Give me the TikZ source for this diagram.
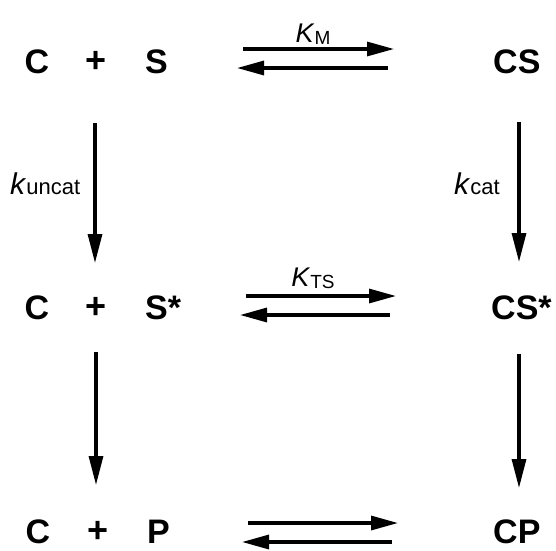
\documentclass[tikz,border=0pt]{standalone}
\usepackage{fontspec}
\setmainfont{Liberation Sans}
\usetikzlibrary{arrows.meta}
\tikzset{
  species/.style={inner sep=0pt, font=\fontsize{34}{34}\selectfont\bfseries},
  plussign/.style={inner sep=0pt, font=\fontsize{36}{36}\selectfont\bfseries},
  ratelbl/.style={inner sep=0pt},
  rxn/.style={line width=3.2pt, -{Triangle[length=27pt,width=14pt]}},
  vrxn/.style={line width=3.2pt, -{Triangle[length=29pt,width=14pt]}}
}
\newcommand{\bigK}[1]{{\fontsize{27}{27}\selectfont\textit{K}}\raisebox{-2pt}{\fontsize{19}{19}\selectfont #1}}
\newcommand{\smallk}[1]{{\fontsize{30}{30}\selectfont\textit{k}}{\fontsize{22}{22}\selectfont #1}}
\begin{document}
\begin{tikzpicture}[x=1pt,y=-1pt]
\useasboundingbox (0,0) rectangle (556,550);
% row 1
\node[species, anchor=base] (c1) at (37,73) {C};
\node[plussign, anchor=base] (pl1) at (96,72) {+};
\node[species, anchor=base west] (s1) at (145,73) {S};
\node[species, anchor=base west] (cs) at (493,73) {CS};
% row 2
\node[species, anchor=base] (c2) at (37,319) {C};
\node[plussign, anchor=base] (pl2) at (96,318) {+};
\node[species, anchor=base west] (s2) at (145,319) {S*};
\node[species, anchor=base west] (css) at (491,319) {CS*};
% row 3
\node[species, anchor=base] (c3) at (38,543) {C};
\node[plussign, anchor=base] (pl3) at (98,542) {+};
\node[species, anchor=base west] (p3) at (147,543) {P};
\node[species, anchor=base west] (cp) at (493,543) {CP};
% labels
\node[ratelbl, anchor=base] (km) at (313,42) {\bigK{M}};
\node[ratelbl, anchor=base] (kts) at (313,286) {\bigK{TS}};
\node[ratelbl, anchor=base west] (kunc) at (10,194) {\smallk{uncat}};
\node[ratelbl, anchor=base west] (kcat) at (454,194) {\smallk{cat}};
% arrow end points
\coordinate (h1a) at (243,49);  \coordinate (h1b) at (394,49);
\coordinate (h1c) at (388,68);  \coordinate (h1d) at (237,68);
\coordinate (h2a) at (246,296); \coordinate (h2b) at (396,296);
\coordinate (h2c) at (390,315); \coordinate (h2d) at (240,315);
\coordinate (h3a) at (248,523); \coordinate (h3b) at (398,523);
\coordinate (h3c) at (392,542); \coordinate (h3d) at (242,542);
\coordinate (v1a) at (95,123);  \coordinate (v1b) at (95,263);
\coordinate (v2a) at (519,122); \coordinate (v2b) at (519,262);
\coordinate (v3a) at (96,352);  \coordinate (v3b) at (96,485);
\coordinate (v4a) at (519,354); \coordinate (v4b) at (519,488);
% arrows
\draw[rxn] (h1a) -- (h1b);
\draw[rxn] (h1c) -- (h1d);
\draw[rxn] (h2a) -- (h2b);
\draw[rxn] (h2c) -- (h2d);
\draw[rxn] (h3a) -- (h3b);
\draw[rxn] (h3c) -- (h3d);
\draw[vrxn] (v1a) -- (v1b);
\draw[vrxn] (v2a) -- (v2b);
\draw[vrxn] (v3a) -- (v3b);
\draw[vrxn] (v4a) -- (v4b);
\end{tikzpicture}
\end{document}
